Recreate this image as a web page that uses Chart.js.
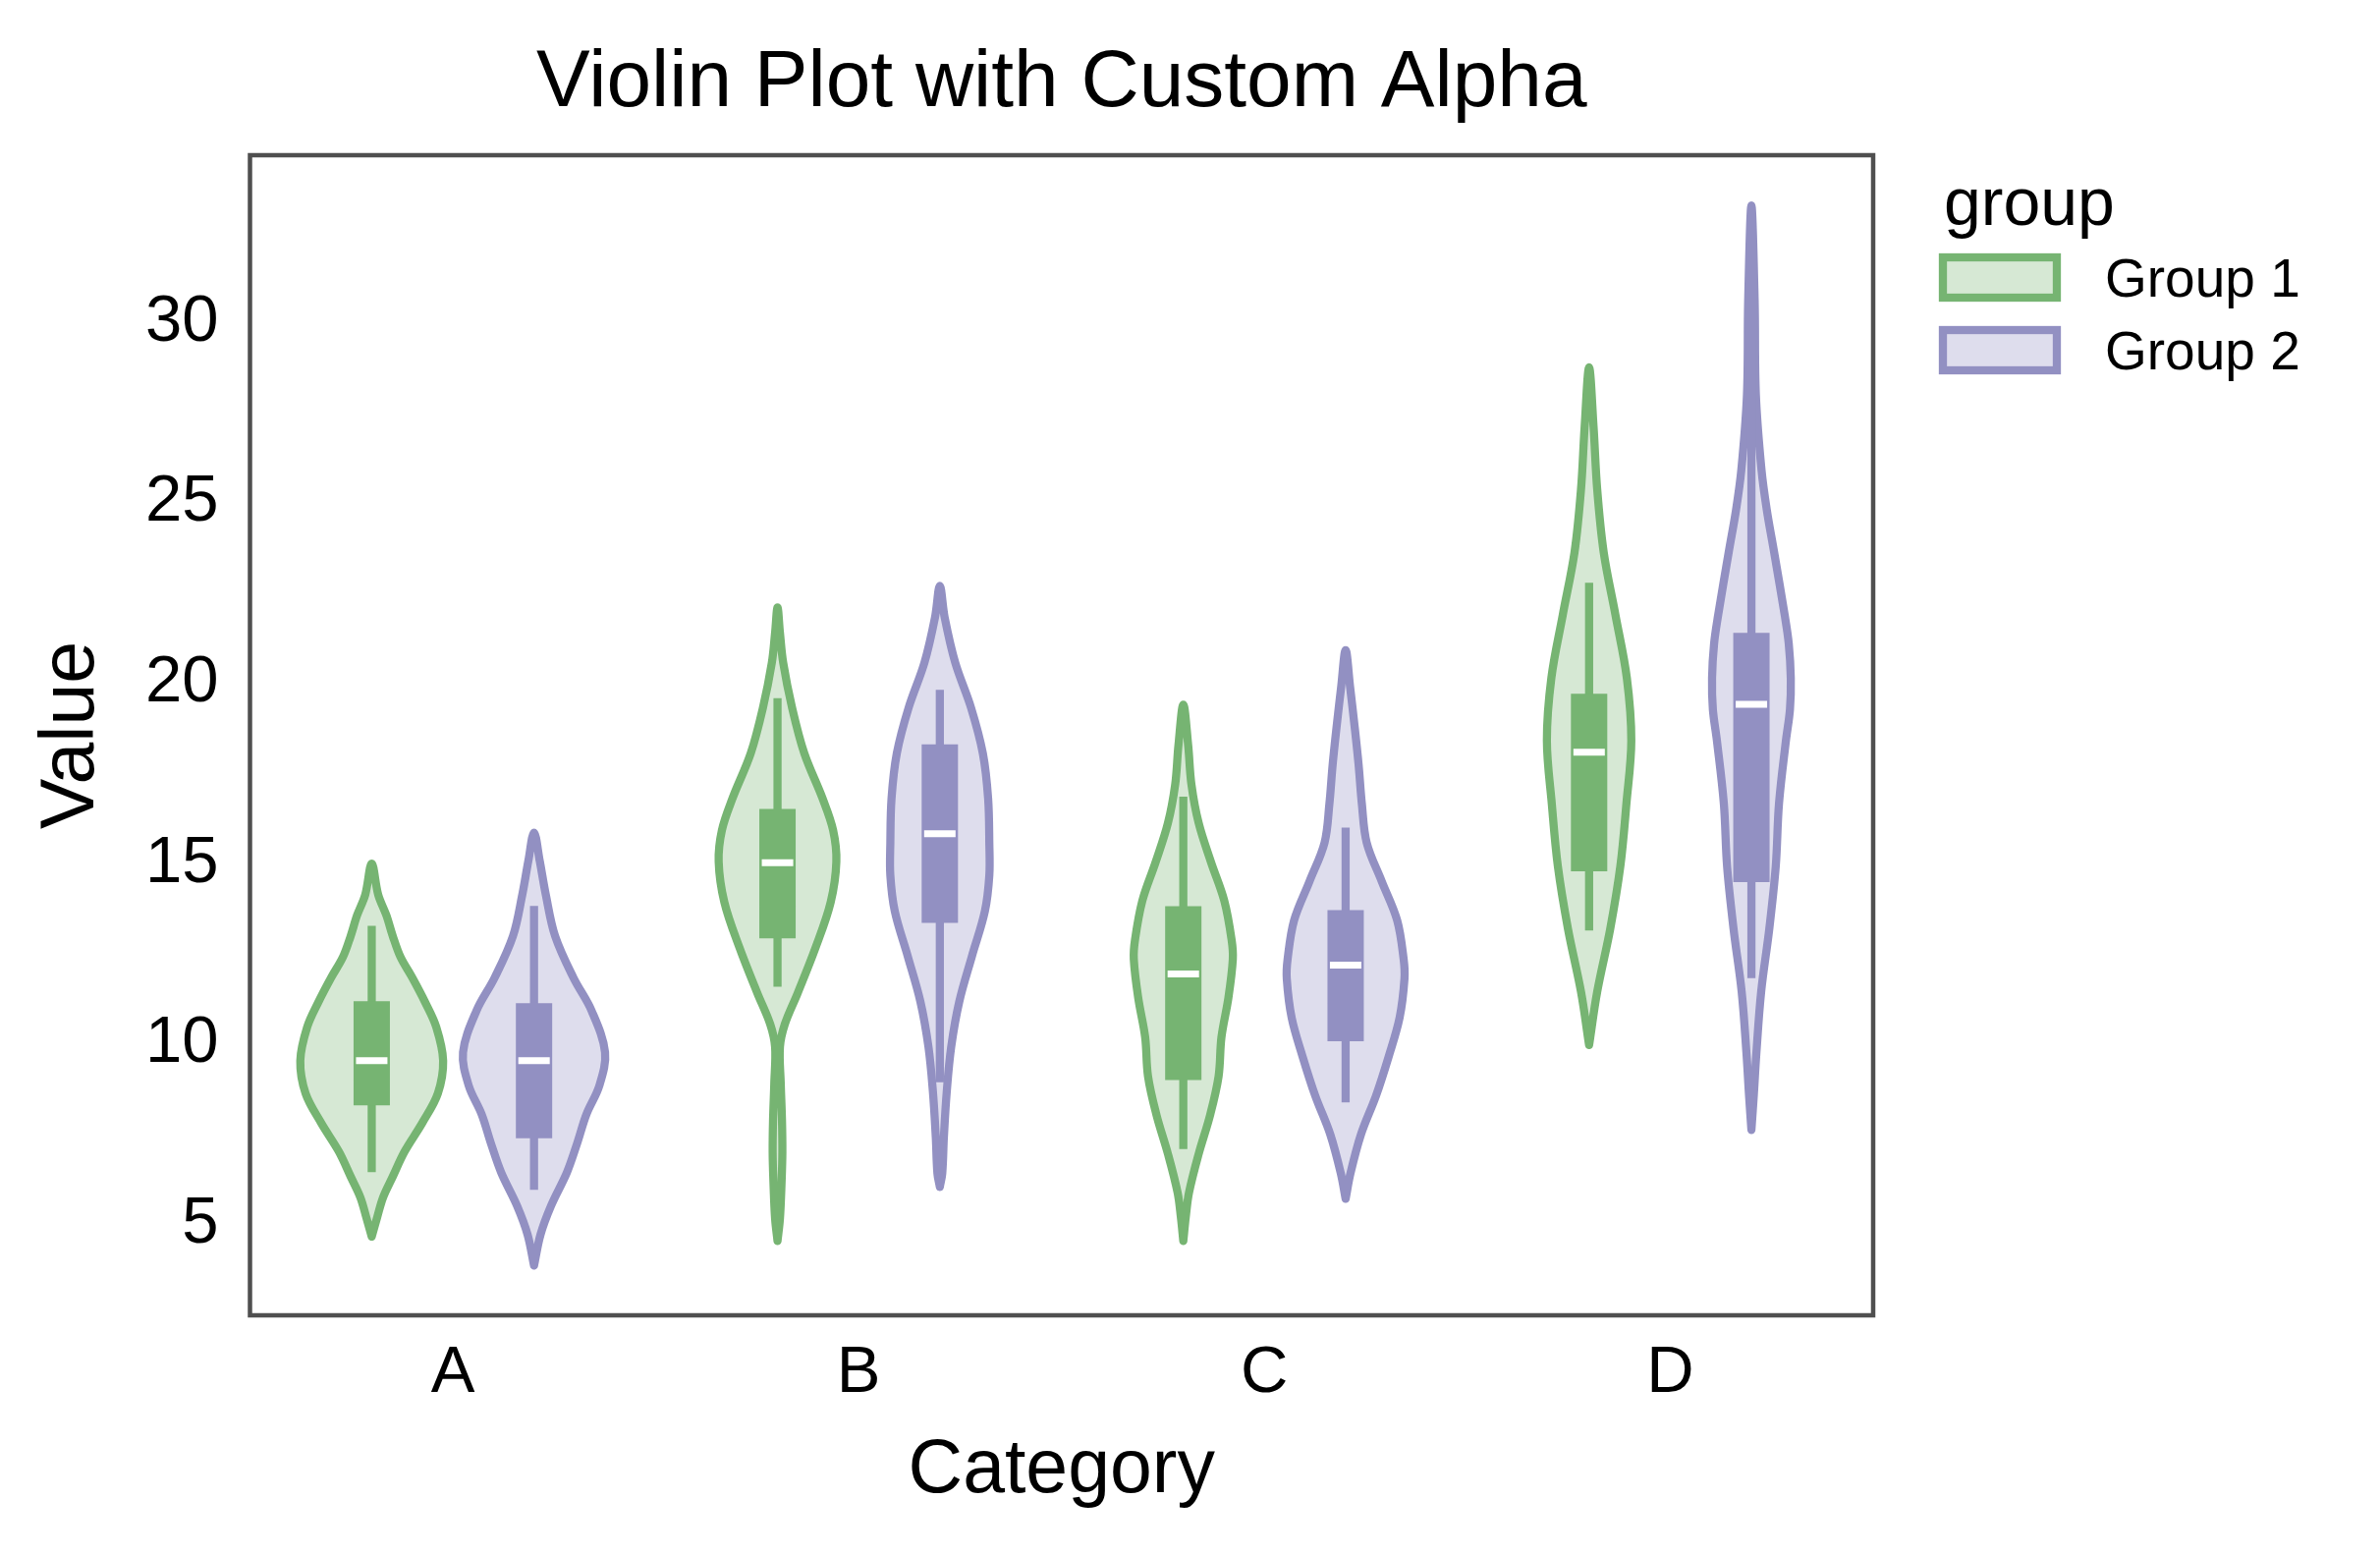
<!DOCTYPE html>
<html>
<head>
<meta charset="utf-8">
<script src="https://cdn.jsdelivr.net/npm/chart.js@4.4.1/dist/chart.umd.min.js"></script>
<style>
  html, body { margin: 0; padding: 0; background: #fff; }
  #chart { display: block; }
</style>
</head>
<body>
<canvas id="chart" width="2423" height="1583"></canvas>
<script>
// categories and groups
const categories = ['A', 'B', 'C', 'D'];
const groups = ['Group 1', 'Group 2'];
const yTicks = [5, 10, 15, 20, 25, 30];

// violin outlines: [value, half width in category units], bottom tip to top tip
const outlineA1 = [[4.66, 0], [5.18, 0.013], [5.75, 0.028], [6.33, 0.052], [7.02, 0.081], [7.82, 0.125], [8.63, 0.163], [9.54, 0.176], [10.47, 0.159], [11.15, 0.132], [11.84, 0.100], [12.41, 0.071], [12.99, 0.052], [13.57, 0.036], [14.14, 0.016], [15.0, 0]];
const outlineA2 = [[3.86, 0], [4.72, 0.016], [5.52, 0.042], [6.44, 0.081], [7.24, 0.106], [8.05, 0.129], [8.85, 0.161], [9.77, 0.175], [10.92, 0.142], [11.84, 0.097], [12.99, 0.052], [14.14, 0.029], [15.08, 0.014], [15.86, 0]];
const outlineB1 = [[4.54, 0], [5.16, 0.006], [6.16, 0.010], [7.0, 0.012], [7.9, 0.011], [8.9, 0.008], [9.92, 0.006], [10.55, 0.018], [11.42, 0.050], [12.68, 0.094], [13.93, 0.131], [15.06, 0.145], [15.93, 0.137], [16.81, 0.111], [18.06, 0.066], [19.32, 0.036], [20.57, 0.014], [21.4, 0.006], [22.10, 0]];
const outlineB2 = [[6.04, 0], [6.42, 0.006], [7.42, 0.010], [8.67, 0.017], [9.92, 0.028], [11.18, 0.048], [12.43, 0.079], [13.68, 0.111], [14.68, 0.122], [15.56, 0.122], [16.81, 0.119], [18.06, 0.106], [19.32, 0.077], [20.57, 0.038], [21.82, 0.012], [22.70, 0]];
const outlineC1 = [[4.54, 0], [5.2, 0.006], [5.88, 0.014], [6.96, 0.038], [8.03, 0.066], [9.11, 0.087], [10.19, 0.094], [11.27, 0.111], [12.35, 0.122], [12.89, 0.119], [13.97, 0.101], [15.05, 0.068], [16.12, 0.038], [17.20, 0.020], [18.28, 0.012], [19.41, 0]];
const outlineC2 = [[5.71, 0], [6.42, 0.012], [7.50, 0.038], [8.57, 0.075], [9.65, 0.106], [10.73, 0.133], [11.81, 0.145], [12.35, 0.143], [13.43, 0.127], [14.51, 0.089], [15.58, 0.052], [16.66, 0.040], [17.74, 0.032], [18.82, 0.022], [19.90, 0.011], [20.92, 0]];
const outlineD1 = [[9.97, 0], [11.45, 0.020], [13.19, 0.052], [14.93, 0.077], [16.67, 0.092], [18.41, 0.104], [20.15, 0.093], [21.89, 0.065], [23.63, 0.036], [25.37, 0.020], [27.11, 0.011], [28.76, 0]];
const outlineD2 = [[7.62, 0], [8.6, 0.006], [9.71, 0.012], [11.45, 0.024], [13.19, 0.044], [14.93, 0.060], [16.67, 0.068], [18.41, 0.085], [19.28, 0.095], [20.15, 0.097], [21.1, 0.092], [21.89, 0.082], [23.63, 0.056], [24.8, 0.038], [25.9, 0.025], [28.0, 0.011], [30.6, 0.008], [33.25, 0]];

// inner box stats, one value per category
const whiskerLow1 = [6.45, 11.59, 7.09, 13.15];
const q1Group1 = [8.30, 12.93, 9.00, 14.79];
const median1 = [9.54, 15.03, 11.94, 18.09];
const q3Group1 = [11.19, 16.52, 13.82, 19.71];
const whiskerHigh1 = [13.28, 19.59, 16.86, 22.79];

const whiskerLow2 = [5.96, 8.94, 8.38, 11.83];
const q1Group2 = [7.39, 13.36, 10.08, 14.49];
const median2 = [9.54, 15.83, 12.19, 19.42];
const q3Group2 = [11.13, 18.31, 13.71, 21.40];
const whiskerHigh2 = [13.83, 19.82, 16.00, 29.5];

// styling
const FONT = "'Liberation Sans', Arial, Helvetica, sans-serif";
const strokeColors = ['rgb(118,180,114)', 'rgb(146,144,194)'];
const fillColors = ['rgba(118,180,114,0.3)', 'rgba(146,144,194,0.3)'];
const offsets = [-0.2, 0.2];
const LINE_W = 8.3;

const outlines = [
  [outlineA1, outlineB1, outlineC1, outlineD1],
  [outlineA2, outlineB2, outlineC2, outlineD2]
];
const stats = [
  {lo: whiskerLow1, q1: q1Group1, med: median1, q3: q3Group1, hi: whiskerHigh1},
  {lo: whiskerLow2, q1: q1Group2, med: median2, q3: q3Group2, hi: whiskerHigh2}
];

function violinPoints(outline, center) {
  const right = outline.map(([v, w]) => ({x: center + w, y: v}));
  const left = outline.slice(0, -1).reverse().map(([v, w]) => ({x: center - w, y: v}));
  return right.concat(left);
}

function segmentPoints(lows, highs, off) {
  const pts = [];
  lows.forEach((lo, i) => {
    pts.push({x: i + off, y: lo}, {x: i + off, y: highs[i]}, {x: i + off, y: null});
  });
  return pts;
}

const datasets = [];
groups.forEach((g, gi) => {
  outlines[gi].forEach((outline, ci) => {
    datasets.push({
      label: g,
      data: violinPoints(outline, ci + offsets[gi]),
      borderColor: strokeColors[gi],
      backgroundColor: fillColors[gi],
      borderWidth: LINE_W,
      borderJoinStyle: 'round',
      borderCapStyle: 'round',
      fill: 'shape',
      tension: 0.35,
      pointRadius: 0,
      order: 3
    });
  });
  const s = stats[gi];
  datasets.push({
    label: g + ' whiskers',
    data: segmentPoints(s.lo, s.hi, offsets[gi]),
    borderColor: strokeColors[gi],
    borderWidth: 8.3,
    borderCapStyle: 'butt',
    fill: false,
    tension: 0,
    pointRadius: 0,
    order: 2
  });
  datasets.push({
    label: g + ' box',
    data: segmentPoints(s.q1, s.q3, offsets[gi]),
    borderColor: strokeColors[gi],
    borderWidth: 37,
    borderCapStyle: 'butt',
    fill: false,
    tension: 0,
    pointRadius: 0,
    order: 1
  });
  datasets.push({
    label: g + ' median',
    data: s.med.map((m, i) => ({x: i + offsets[gi], y: m})),
    showLine: false,
    pointStyle: 'line',
    pointRadius: 16,
    pointBorderWidth: 7,
    pointBorderColor: '#ffffff',
    pointBackgroundColor: '#ffffff',
    order: 0
  });
});

// axes frame and matplotlib-like legend on the right
const framePlugin = {
  id: 'frame',
  afterDraw(chart) {
    const {ctx, chartArea: a} = chart;
    ctx.save();
    ctx.strokeStyle = '#4f4f4f';
    ctx.lineWidth = 4.5;
    ctx.strokeRect(a.left, a.top, a.right - a.left, a.bottom - a.top);

    const x0 = a.right + 71;
    ctx.fillStyle = '#000';
    ctx.textAlign = 'left';
    ctx.textBaseline = 'alphabetic';
    ctx.font = `68px ${FONT}`;
    ctx.fillText('group', x0 + 1, a.top + 71);
    ctx.font = `55px ${FONT}`;
    groups.forEach((g, i) => {
      const ry = a.top + 104 + i * 74;
      ctx.fillStyle = fillColors[i];
      ctx.fillRect(x0, ry, 116, 41);
      ctx.strokeStyle = strokeColors[i];
      ctx.lineWidth = LINE_W;
      ctx.strokeRect(x0, ry, 116, 41);
      ctx.fillStyle = '#000';
      ctx.fillText(g, x0 + 165, ry + 20.5 + 19.5);
    });
    ctx.restore();
  }
};

new Chart(document.getElementById('chart'), {
  type: 'line',
  data: {datasets},
  plugins: [framePlugin],
  options: {
    responsive: false,
    animation: false,
    devicePixelRatio: 1,
    events: [],
    layout: {padding: {left: 0, right: 516, top: 0, bottom: 0}},
    plugins: {
      legend: {display: false},
      tooltip: {enabled: false},
      title: {
        display: true,
        text: 'Violin Plot with Custom Alpha',
        fullSize: false,
        color: '#000',
        font: {family: FONT, size: 82, weight: 'normal'},
        padding: {top: 36, bottom: 23.6}
      }
    },
    scales: {
      x: {
        type: 'linear',
        min: -0.5,
        max: 3.5,
        grid: {display: false, drawTicks: false},
        border: {display: false},
        afterBuildTicks: s => { s.ticks = categories.map((c, i) => ({value: i})); },
        afterFit: s => { s.height = 244; },
        ticks: {
          callback: v => categories[v],
          autoSkip: false,
          maxRotation: 0,
          padding: 19,
          color: '#000',
          font: {family: FONT, size: 67}
        },
        title: {
          display: true,
          text: 'Category',
          color: '#000',
          font: {family: FONT, size: 77},
          padding: {top: 0, bottom: 39}
        }
      },
      y: {
        type: 'linear',
        min: 2.48,
        max: 34.64,
        grid: {display: false, drawTicks: false},
        border: {display: false},
        afterBuildTicks: s => { s.ticks = yTicks.map(v => ({value: v})); },
        afterFit: s => { s.width = 254.5; },
        ticks: {
          padding: 32,
          color: '#000',
          font: {family: FONT, size: 67}
        },
        title: {
          display: true,
          text: 'Value',
          color: '#000',
          font: {family: FONT, size: 77},
          padding: {top: 28, bottom: 0}
        }
      }
    }
  }
});
</script>
</body>
</html>
